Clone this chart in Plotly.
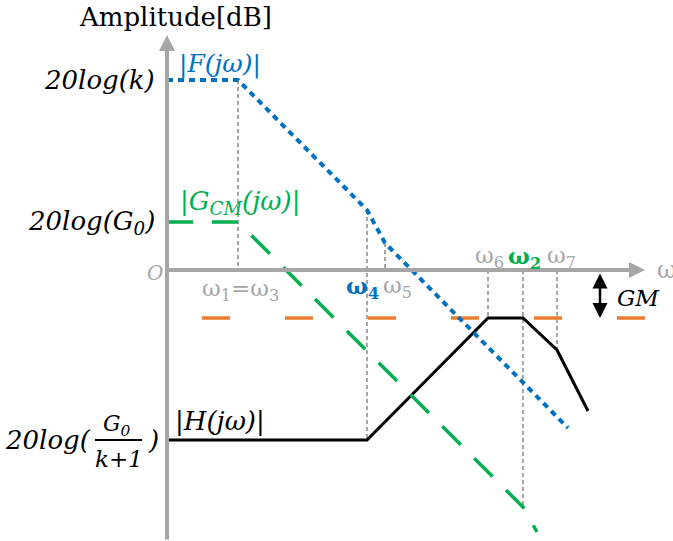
import plotly.graph_objects as go

# ---- data (schematic Bode amplitude plot; x = log-frequency units, y = dB units, origin at O) ----
F_x = [0, 71, 200, 218, 401]
F_y = [190, 190, 60, 27, -158]
G_x = [0, 71, 356, 370]
G_y = [48, 48, -237, -262]
H_x = [0, 200, 321, 356, 390, 421]
H_y = [-170, -170, -48, -48, -80, -141]
GM_level = -48
GM_span = [35, 478]
# corner frequencies (x) with the vertical extent of their guide lines
guide_x = [71, 200, 218, 321, 356, 390]
guide_top = [190, 60, 27, 0, 0, 0]
guide_bot = [0, -170, 0, -48, -237, -80]
level_k = 190
level_G0 = 48
level_H = -170
x_axis_end = 478
y_axis_end = 235
y_axis_start = -271

BLUE = "#0070C0"
GREEN = "#00B050"
ORANGE = "#ED7D31"
GRAY = "#A6A6A6"
BLACK = "#000000"
FONT = "DejaVu Serif"

fig = go.Figure()

# guide lines
for gx, gt, gb in zip(guide_x, guide_top, guide_bot):
    fig.add_trace(go.Scatter(x=[gx, gx], y=[gt, gb], mode="lines",
                             line=dict(color=GRAY, width=2, dash="4px,3px"),
                             hoverinfo="skip", showlegend=False))

# GM level (orange dashed)
fig.add_trace(go.Scatter(x=GM_span, y=[GM_level, GM_level], mode="lines",
                         line=dict(color=ORANGE, width=3.5, dash="28px,55px"),
                         showlegend=False))
# |H(jw)|
fig.add_trace(go.Scatter(x=H_x, y=H_y, mode="lines",
                         line=dict(color=BLACK, width=3), showlegend=False))
# |G_CM(jw)|
fig.add_trace(go.Scatter(x=G_x, y=G_y, mode="lines",
                         line=dict(color=GREEN, width=3.5, dash="26px,19px"), showlegend=False))
# |F(jw)|
fig.add_trace(go.Scatter(x=F_x, y=F_y, mode="lines",
                         line=dict(color=BLUE, width=4, dash="6px,5px"), showlegend=False))

# axes with arrows
fig.add_annotation(x=0, y=y_axis_end, ax=0, ay=y_axis_start, xref="x", yref="y",
                   axref="x", ayref="y", text="", showarrow=True, arrowhead=2,
                   arrowsize=0.8, arrowwidth=4, arrowcolor=GRAY)
fig.add_annotation(x=x_axis_end, y=0, ax=0, ay=0, xref="x", yref="y",
                   axref="x", ayref="y", text="", showarrow=True, arrowhead=2,
                   arrowsize=0.8, arrowwidth=4, arrowcolor=GRAY)
# GM double arrow
fig.add_annotation(x=433, y=GM_level, ax=433, ay=-2, xref="x", yref="y",
                   axref="x", ayref="y", text="", showarrow=True, arrowhead=2,
                   arrowside="end+start", arrowsize=1.2, arrowwidth=2.5, arrowcolor=BLACK)


def label(text, x, y, color=BLACK, size=22, xanchor="center", italic=True, bold=False):
    t = text
    if italic:
        t = "<i>" + t + "</i>"
    if bold:
        t = "<b>" + t + "</b>"
    fig.add_annotation(x=x, y=y, xref="x", yref="y", text=t, showarrow=False,
                       xanchor=xanchor, yanchor="middle",
                       font=dict(family=FONT, size=size, color=color))


def w(n):
    return "ω<sub>%s</sub>" % n


label("Amplitude[dB]", 8, 253, italic=False, size=26)
label("|F(jω)|", 10, 206, color=BLUE, xanchor="left", size=25)
label("|G<sub>CM</sub>(jω)|", 11, 68, color=GREEN, xanchor="left", size=26)
label("|H(jω)|", 6, -151, xanchor="left", size=26)
label("20log(k)", -10, level_k, xanchor="right", size=26)
label("20log(G<sub>0</sub>)", -10, level_G0, xanchor="right", size=26)
label("O", -12, -3, color=GRAY, size=20)
label(w("1") + "=" + w("3"), 73, -20, color=GRAY, size=23, italic=False)
label(w("4"), 195, -17, color=BLUE, size=23, italic=False, bold=True)
label(w("5"), 230, -17, color=GRAY, size=23, italic=False)
label(w("6"), 322, 13, color=GRAY, size=23, italic=False)
label(w("2"), 357, 13, color=GREEN, size=23, italic=False, bold=True)
label(w("7"), 394, 13, color=GRAY, size=23, italic=False)
label("ω", 488, 0, color=GRAY, size=24, italic=False, xanchor="left")
label("GM", 448, -28, size=23, xanchor="left")

# 20log(G0/(k+1)) with a stacked fraction
label("20log(", -74, level_H, xanchor="right", size=26)
label("G<sub>0</sub>", -50, level_H + 15, size=22)
label("k+1", -48, level_H - 19, size=23)
label(")", -21, level_H, xanchor="left", size=26)
fig.add_shape(type="line", x0=-72, x1=-25, y0=level_H, y1=level_H, xref="x", yref="y",
              line=dict(color=BLACK, width=2))

fig.update_layout(
    width=673, height=541,
    margin=dict(l=0, r=0, t=0, b=0),
    paper_bgcolor="white", plot_bgcolor="white",
    xaxis=dict(range=[-167, 506], visible=False, fixedrange=True),
    yaxis=dict(range=[-271, 270], visible=False, fixedrange=True),
    showlegend=False,
)

fig.write_html("out.html")
